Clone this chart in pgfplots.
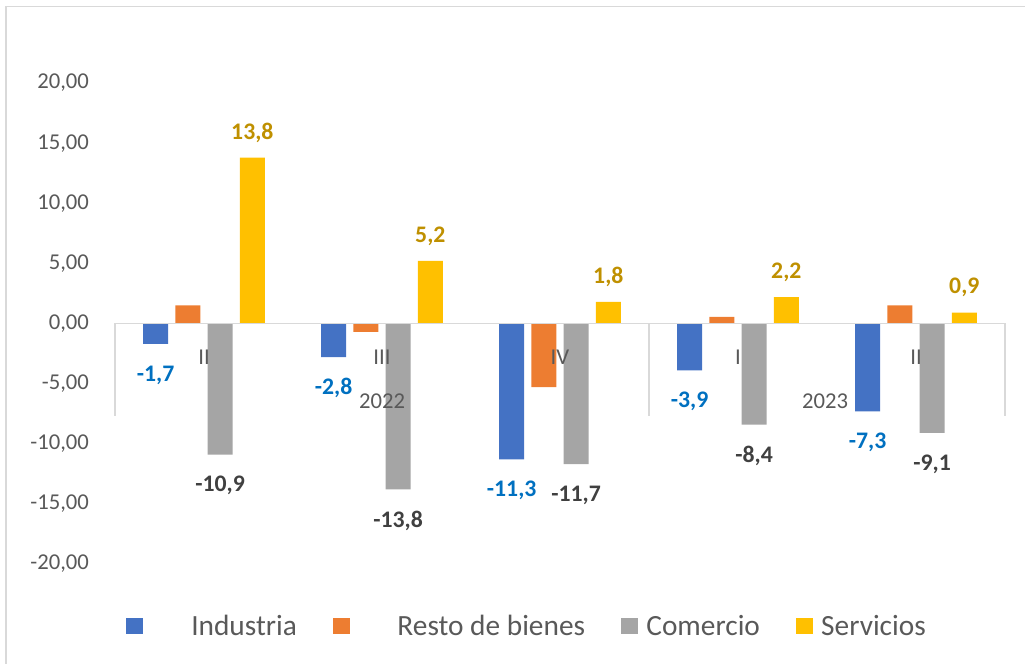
\documentclass[border=0pt]{standalone}
\usepackage{pgfplots}
\pgfplotsset{compat=1.18}
\usepackage{fontspec}
\setmainfont{Carlito}
\definecolor{cInd}{HTML}{4472C4}
\definecolor{cRes}{HTML}{ED7D31}
\definecolor{cCom}{HTML}{A5A5A5}
\definecolor{cSer}{HTML}{FFC000}
\definecolor{lInd}{HTML}{0070C0}
\definecolor{lCom}{HTML}{404040}
\definecolor{lSer}{HTML}{BF9000}
\definecolor{txt}{HTML}{595959}
\definecolor{ln}{HTML}{D9D9D9}
\pgfplotsset{
  mybar/.style={ybar, bar width=0.14, bar shift=0, draw=none, fill=#1,
    legend image code/.code={\fill[#1] (0pt,-6pt) rectangle (12.75pt,6pt);}},
  lab/.style={nodes near coords={\pgfmathprintnumber[fixed,fixed zerofill,precision=1,use comma,assume math mode=true]{\pgfplotspointmeta}},
    every node near coord/.append style={font=\fontsize{17.8}{20}\selectfont\bfseries, text=#1, anchor=center, inner sep=0pt}},
}
\begin{document}
\begin{tikzpicture}
\useasboundingbox (0,0) rectangle (768.75pt,498pt);
\draw[ln, line width=1.2pt] (4.5pt,-2pt) -- (4.5pt,493pt) -- (772pt,493pt);
\begin{axis}[
  at={(86.25pt,75pt)}, anchor=south west,
  scale only axis, width=667.5pt, height=360.75pt,
  xmin=-0.5, xmax=4.5, ymin=-20, ymax=20,
  axis on top,
  axis x line=middle, axis y line=left,
  hide obscured x ticks=false, hide obscured y ticks=false,
  x axis line style={ln, line width=1.1pt, -},
  y axis line style={draw=none},
  xtick={0,1,2,3,4}, xticklabels={II,III,IV,I,II},
  ytick={-20,-15,...,20},
  tick style={draw=none},
  tick label style={font=\fontsize{17}{20}\selectfont, text=txt},
  xticklabel style={anchor=center, inner sep=0pt, yshift=-23.25pt},
  yticklabel style={anchor=east, inner sep=0pt, xshift=-17.25pt},
  yticklabel={\pgfmathprintnumber[fixed,fixed zerofill,precision=2,use comma,assume math mode=true]{\tick}},
  clip=false,
  legend style={at={(0,0)}, anchor=west, xshift=8.25pt, yshift=-46.5pt,
    draw=none, fill=none, inner sep=0pt, font=\fontsize{22}{24}\selectfont, text=txt,
    nodes={inner sep=0pt},
    /tikz/every odd column/.append style={column sep=6pt},
    /tikz/every even column/.append style={column sep=27.2pt}},
  legend columns=4,
  legend cell align=left,
]
\addplot[mybar=cInd, lab=lInd,
  every node near coord/.append style={yshift=-23.25pt}]
  coordinates {(-0.2715,-1.7) (0.7285,-2.8) (1.7285,-11.3) (2.7285,-3.9) (3.7285,-7.3)};
\addlegendentry{\hspace{30pt}Industria}
\addplot[mybar=cRes]
  coordinates {(-0.0905,1.5) (0.9095,-0.7) (1.9095,-5.3) (2.9095,0.55) (3.9095,1.5)};
\addlegendentry{\hspace{29.5pt}Resto de bienes}
\addplot[mybar=cCom, lab=lCom,
  every node near coord/.append style={yshift=-23.25pt}]
  coordinates {(0.0905,-10.9) (1.0905,-13.8) (2.0905,-11.7) (3.0905,-8.4) (4.0905,-9.1)};
\addlegendentry{Comercio}
\addplot[mybar=cSer, lab=lSer,
  every node near coord/.append style={yshift=18.75pt}]
  coordinates {(0.2715,13.8) (1.2715,5.2) (2.2715,1.8) (3.2715,2.2) (4.2715,0.9)};
\addlegendentry{Servicios}
\draw[ln, line width=1.1pt] (axis cs:-0.5,0) -- ([yshift=-69.75pt]axis cs:-0.5,0);
\draw[ln, line width=1.1pt] (axis cs:2.5,0) -- ([yshift=-69.75pt]axis cs:2.5,0);
\draw[ln, line width=1.1pt] (axis cs:4.5,0) -- ([yshift=-69.75pt]axis cs:4.5,0);
\node[font=\fontsize{17}{20}\selectfont, text=txt, inner sep=0pt] at ([yshift=-58.5pt]axis cs:1,0) {2022};
\node[font=\fontsize{17}{20}\selectfont, text=txt, inner sep=0pt] at ([yshift=-58.5pt]axis cs:3.49,0) {2023};
\end{axis}
\end{tikzpicture}
\end{document}
